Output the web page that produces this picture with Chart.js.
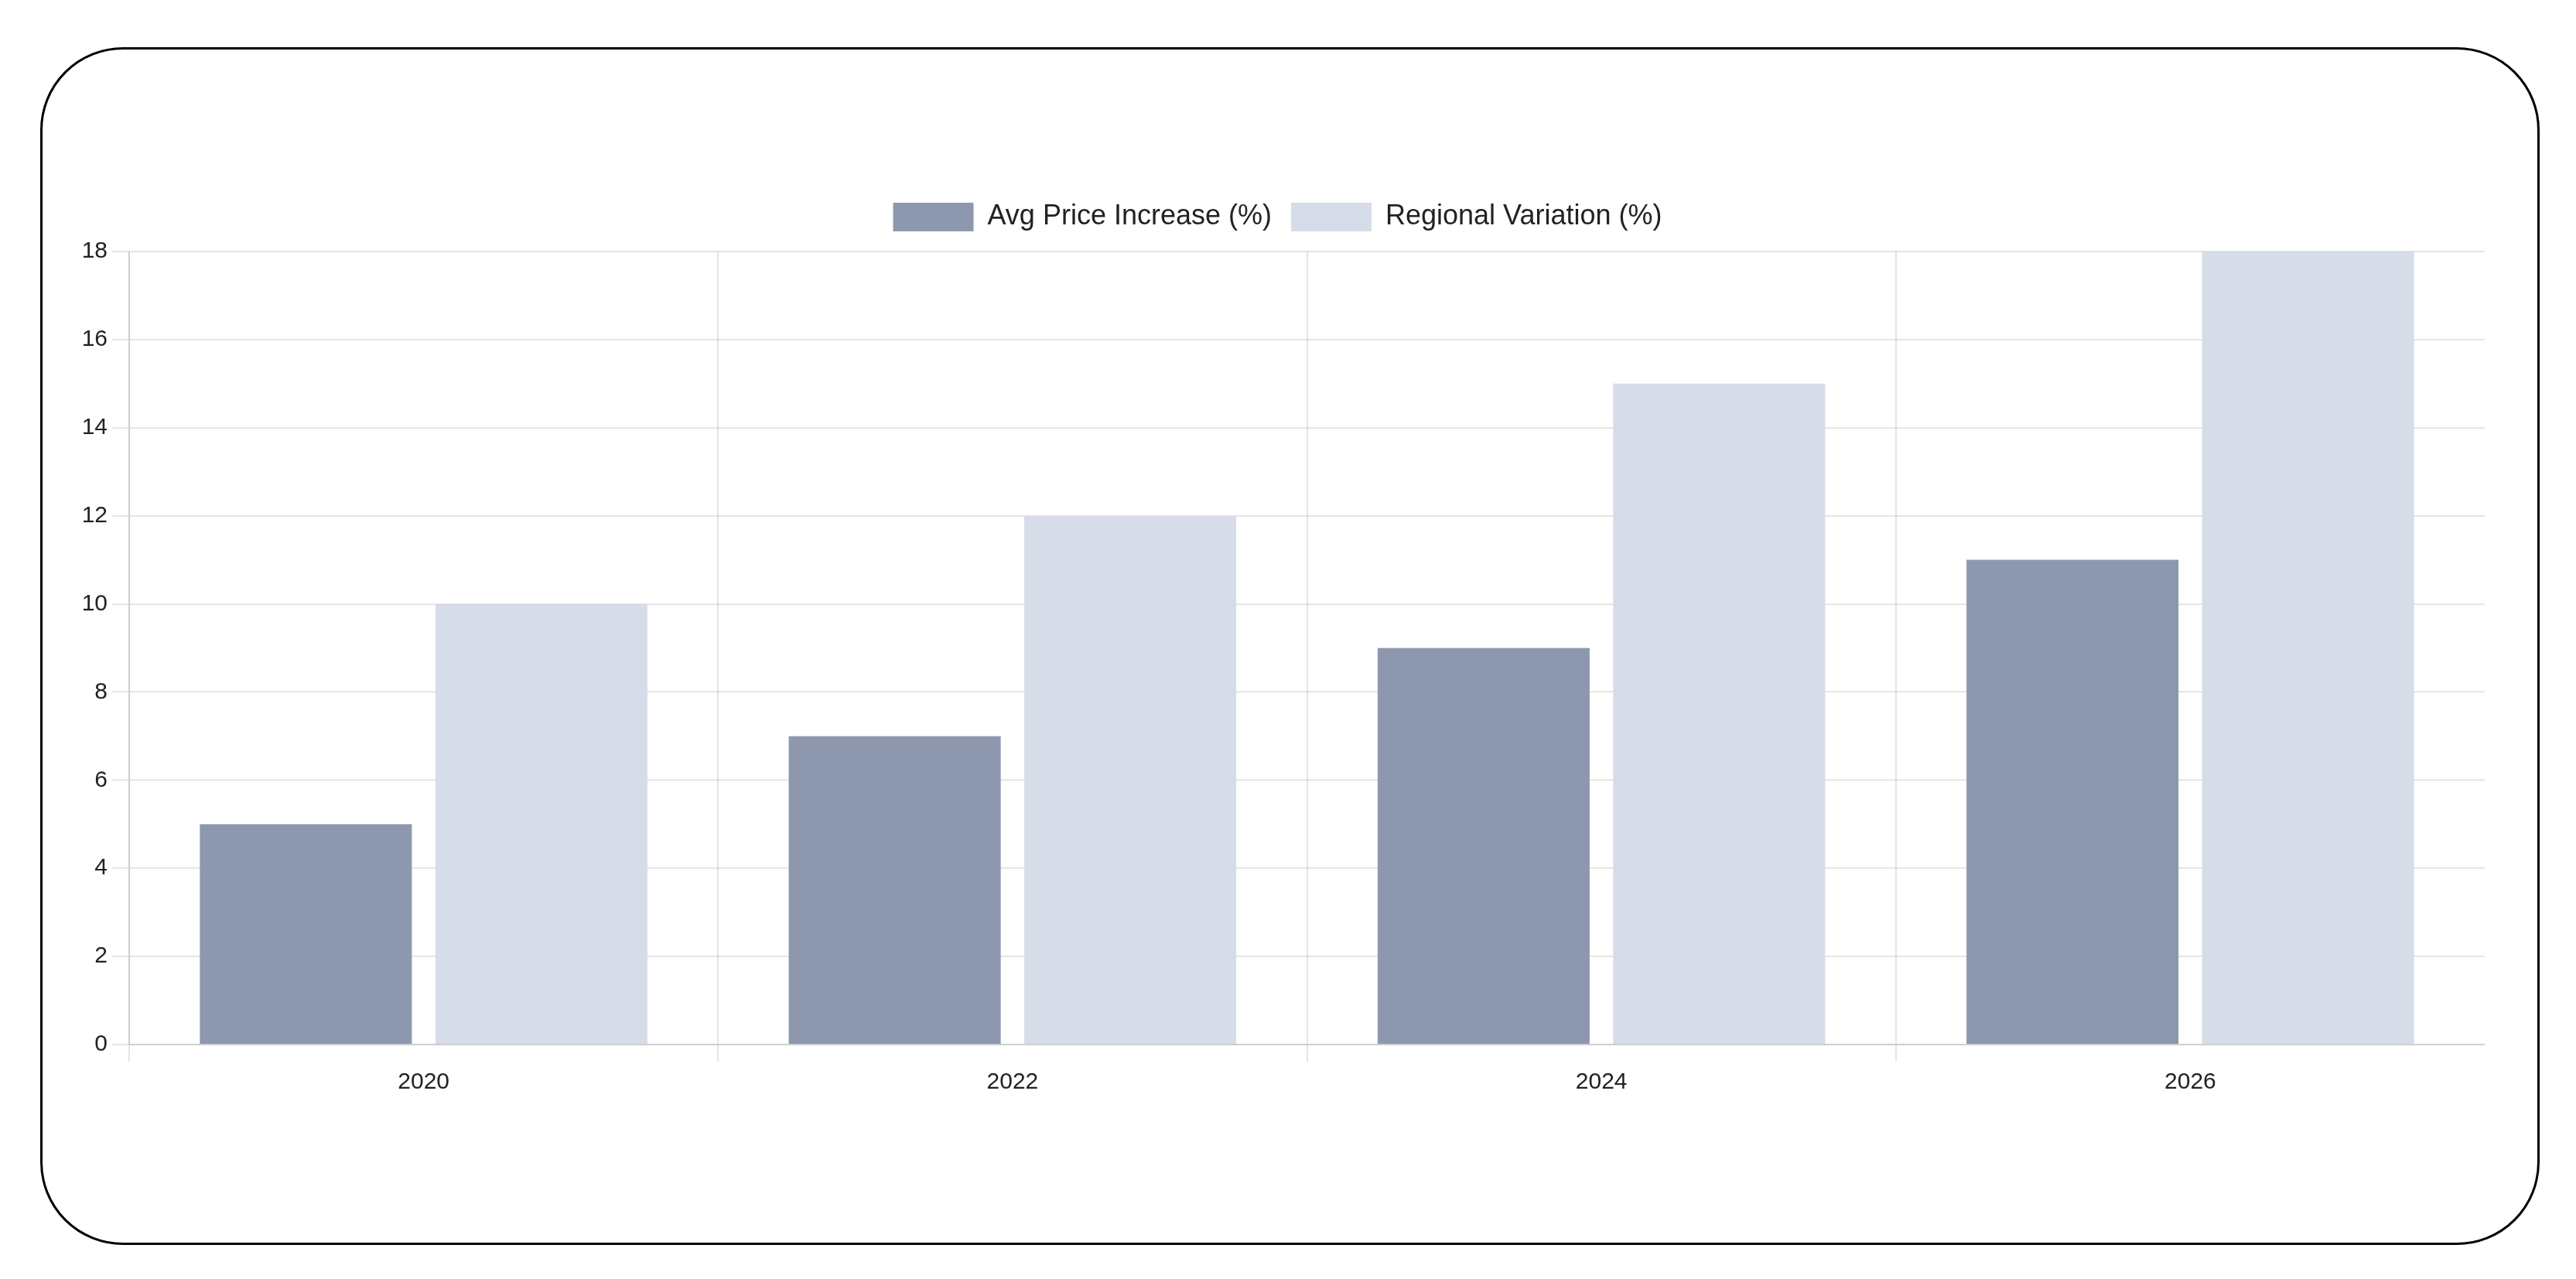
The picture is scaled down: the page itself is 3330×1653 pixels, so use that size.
<!DOCTYPE html>
<html>
<head>
<meta charset="utf-8">
<title>Price Increase Chart</title>
<script src="https://cdn.jsdelivr.net/npm/chart.js@4.4.1/dist/chart.umd.min.js"></script>
<style>
    html, body {
        margin: 0;
        padding: 0;
        background: #fff;
        width: 3330px;
        height: 1653px;
        overflow: hidden;
    }
    .card {
        position: absolute;
        left: 52px;
        top: 61px;
        width: 3231px;
        height: 1548px;
        box-sizing: border-box;
        border: 3px solid #000;
        border-radius: 107px;
        background: #fff;
    }
    #chartBox {
        position: absolute;
        left: 91px;
        top: 237px;
        width: 3121px;
        height: 1189px;
    }
</style>
</head>
<body>
<div class="card"></div>
<div id="chartBox"><canvas id="priceChart"></canvas></div>
<script>
const years = ['2020', '2022', '2024', '2026'];
const avgPriceIncrease = [5, 7, 9, 11];
const regionalVariation = [10, 12, 15, 18];
const seriesNames = ['Avg Price Increase (%)', 'Regional Variation (%)'];
const yMin = 0;
const yMax = 18;
const yStep = 2;

const FONT = "'Liberation Sans', Arial, Helvetica, sans-serif";
const GRID = 'rgba(0, 0, 0, 0.1)';

// push the plot down a bit below the legend
const legendGap = {
    id: 'legendGap',
    beforeInit(chart) {
        const fit = chart.legend.fit;
        chart.legend.fit = function () {
            fit.bind(chart.legend)();
            this.height += 16;
        };
    }
};

function buildChart() {
    let ctx = document.getElementById('priceChart').getContext('2d');
    return new Chart(ctx, {
        type: 'bar',
        data: {
            labels: years,
            datasets: [{
                label: seriesNames[0],
                data: avgPriceIncrease,
                backgroundColor: 'rgb(141, 152, 175)'
            }, {
                label: seriesNames[1],
                data: regionalVariation,
                backgroundColor: 'rgb(215, 220, 233)'
            }]
        },
        options: {
            responsive: true,
            maintainAspectRatio: false,
            animation: false,
            color: '#222',
            layout: { padding: 0 },
            plugins: {
                legend: {
                    position: 'top',
                    labels: {
                        boxWidth: 104,
                        boxHeight: 37,
                        padding: 25,
                        color: '#222',
                        font: { family: FONT, size: 36 }
                    }
                },
                tooltip: { enabled: false }
            },
            scales: {
                x: {
                    grid: {
                        // no line on the far right edge
                        color: (c) => c.type === 'scale' ? 'rgba(0,0,0,0)' : GRID,
                        lineWidth: 2,
                        tickLength: 22
                    },
                    border: { color: GRID, width: 2 },
                    ticks: {
                        color: '#222',
                        padding: 9,
                        font: { family: FONT, size: 30 }
                    }
                },
                y: {
                    min: yMin,
                    max: yMax,
                    grid: {
                        color: GRID,
                        lineWidth: 2,
                        tickLength: 22
                    },
                    border: { color: GRID, width: 2 },
                    ticks: {
                        stepSize: yStep,
                        color: '#222',
                        padding: 6,
                        font: { family: FONT, size: 30 }
                    },
                    afterFit(scale) {
                        scale.width = 76;
                    }
                }
            }
        },
        plugins: [legendGap]
    });
}

buildChart();
</script>
</body>
</html>
